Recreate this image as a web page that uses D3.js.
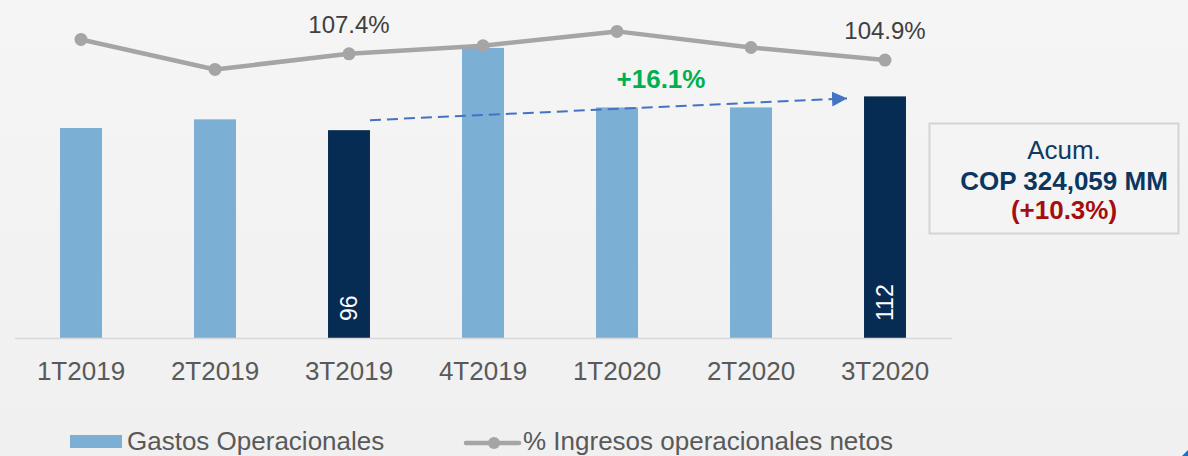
<!DOCTYPE html>
<html>
<head>
<meta charset="utf-8">
<script src="https://cdn.jsdelivr.net/npm/d3@7"></script>
<style>
  html, body { margin: 0; padding: 0; }
  body { width: 1188px; height: 456px; overflow: hidden; }
  text { font-family: "Liberation Sans", Arial, sans-serif; }
</style>
</head>
<body>
<div id="chart"></div>
<script>
// data
const quarters = ["1T2019", "2T2019", "3T2019", "4T2019", "1T2020", "2T2020", "3T2020"];
const gastos = [97, 101, 96, 134, 106.5, 106.5, 111.6];
const pctIngresos = [113.1, 101.2, 107.4, 110.6, 116.3, 109.9, 104.9];
const highlighted = ["3T2019", "3T2020"];
const barLabels = { "3T2019": "96", "3T2020": "112" };
const pctLabels = { "3T2019": "107.4%", "3T2020": "104.9%" };
const growthLabel = "+16.1%";
const boxLines = ["Acum.", "COP 324,059 MM", "(+10.3%)"];

const W = 1188, H = 456;
const baseY = 338;

const svg = d3.select("#chart").append("svg")
    .attr("width", W)
    .attr("height", H);

const defs = svg.append("defs");
const grad = defs.append("linearGradient")
    .attr("id", "bg").attr("x1", 0).attr("y1", 0).attr("x2", 0).attr("y2", 1);
grad.append("stop").attr("offset", "0%").attr("stop-color", "#f5f5f5");
grad.append("stop").attr("offset", "100%").attr("stop-color", "#f0f0f0");

svg.append("rect").attr("width", W).attr("height", H).attr("fill", "url(#bg)");

const x = d3.scaleBand()
    .domain(quarters)
    .range([14, 952])
    .paddingInner(0.687)
    .paddingOuter(0.3435);

const y = d3.scaleLinear().domain([0, 150]).range([baseY, baseY - 150 * 2.165]);
const yPct = d3.scaleLinear().domain([-5.4, 123.6]).range([baseY, 13]);

const cx = q => x(q) + x.bandwidth() / 2;

// bars
svg.append("g").selectAll("rect")
    .data(quarters)
    .enter().append("rect")
    .attr("x", d => x(d))
    .attr("y", (d, i) => y(gastos[i]))
    .attr("width", x.bandwidth())
    .attr("height", (d, i) => baseY - y(gastos[i]))
    .attr("fill", d => highlighted.includes(d) ? "#062c53" : "#7bafd4");

// axis baseline
svg.append("line")
    .attr("x1", 15).attr("x2", 952)
    .attr("y1", baseY + 0.5).attr("y2", baseY + 0.5)
    .attr("stroke", "#d9d9d9").attr("stroke-width", 1.5);

// tick labels
const xAxis = d3.axisBottom(x).tickSize(0).tickPadding(0);
const ax = svg.append("g").attr("transform", `translate(0,${baseY})`).call(xAxis);
ax.select(".domain").remove();
ax.selectAll("text")
    .attr("y", 42).attr("dy", 0)
    .style("font-size", "26px")
    .style("font-family", "'Liberation Sans', Arial, sans-serif")
    .attr("fill", "#595959");

// bar value labels (rotated)
svg.append("g").selectAll("text")
    .data(quarters.filter(q => barLabels[q]))
    .enter().append("text")
    .attr("transform", d => `translate(${cx(d)},${baseY - 17}) rotate(-90)`)
    .attr("dy", "0.36em")
    .attr("text-anchor", "start")
    .style("font-size", "23px")
    .attr("fill", "#ffffff")
    .text(d => barLabels[d]);

// line series
const line = d3.line()
    .x(d => cx(d))
    .y((d, i) => yPct(pctIngresos[i]));

svg.append("path")
    .datum(quarters)
    .attr("d", line)
    .attr("fill", "none")
    .attr("stroke", "#a5a5a5")
    .attr("stroke-width", 4.5)
    .attr("stroke-linejoin", "round");

svg.append("g").selectAll("circle")
    .data(quarters)
    .enter().append("circle")
    .attr("cx", d => cx(d))
    .attr("cy", (d, i) => yPct(pctIngresos[i]))
    .attr("r", 6.5)
    .attr("fill", "#a5a5a5");

svg.append("g").selectAll("text")
    .data(quarters.filter(q => pctLabels[q]))
    .enter().append("text")
    .attr("x", d => cx(d))
    .attr("y", d => yPct(pctIngresos[quarters.indexOf(d)]) - 21)
    .attr("text-anchor", "middle")
    .style("font-size", "24px")
    .attr("fill", "#404040")
    .text(d => pctLabels[d]);

// growth arrow
defs.append("marker")
    .attr("id", "arrow")
    .attr("viewBox", "0 0 10 10")
    .attr("refX", 10).attr("refY", 5)
    .attr("markerWidth", 7.5).attr("markerHeight", 7.5)
    .attr("markerUnits", "strokeWidth")
    .attr("orient", "auto")
    .append("path")
    .attr("d", "M0,0L10,5L0,10Z")
    .attr("fill", "#4472c4");

const a0 = { x: x("3T2019") + x.bandwidth(), y: y(gastos[2]) - 10 };
const a1 = { x: x("3T2020") - 17, y: y(gastos[6]) + 2 };
svg.append("line")
    .attr("x1", a0.x).attr("y1", a0.y)
    .attr("x2", a1.x).attr("y2", a1.y)
    .attr("stroke", "#4472c4")
    .attr("stroke-width", 2)
    .attr("stroke-dasharray", "11,6")
    .attr("marker-end", "url(#arrow)");

svg.append("text")
    .attr("x", cx("1T2020") + 44)
    .attr("y", 88)
    .attr("text-anchor", "middle")
    .style("font-size", "26px")
    .style("font-weight", "bold")
    .attr("fill", "#00b050")
    .text(growthLabel);

// accumulated box
svg.append("rect")
    .attr("x", 929.5).attr("y", 123.5)
    .attr("width", 249).attr("height", 110)
    .attr("fill", "#f4f4f4")
    .attr("stroke", "#d4d4d4")
    .attr("stroke-width", 2);

const boxStyles = [
    { y: 159, weight: "normal", fill: "#0e3a63" },
    { y: 190, weight: "bold", fill: "#0b3660" },
    { y: 219, weight: "bold", fill: "#a50e0e" }
];
svg.append("g").selectAll("text")
    .data(boxLines)
    .enter().append("text")
    .attr("x", 1064)
    .attr("y", (d, i) => boxStyles[i].y)
    .attr("text-anchor", "middle")
    .style("font-size", "26px")
    .style("font-weight", (d, i) => boxStyles[i].weight)
    .attr("fill", (d, i) => boxStyles[i].fill)
    .text(d => d);

// legend
const legend = svg.append("g");
legend.append("rect")
    .attr("x", 70).attr("y", 435).attr("width", 52).attr("height", 13)
    .attr("fill", "#7bafd4");
legend.append("text")
    .attr("x", 127).attr("y", 450)
    .style("font-size", "26px")
    .attr("fill", "#595959")
    .text("Gastos Operacionales");

legend.append("line")
    .attr("x1", 466).attr("x2", 519).attr("y1", 443).attr("y2", 443)
    .attr("stroke", "#a5a5a5").attr("stroke-width", 4.5).attr("stroke-linecap", "round");
legend.append("circle")
    .attr("cx", 494).attr("cy", 443).attr("r", 6).attr("fill", "#a5a5a5");
legend.append("text")
    .attr("x", 523).attr("y", 450)
    .style("font-size", "26px")
    .attr("fill", "#595959")
    .text("% Ingresos operacionales netos");

// corner mark
svg.append("path")
    .attr("d", "M1182,456L1188,450L1188,456Z")
    .attr("fill", "#1f6fc0");
</script>
</body>
</html>
